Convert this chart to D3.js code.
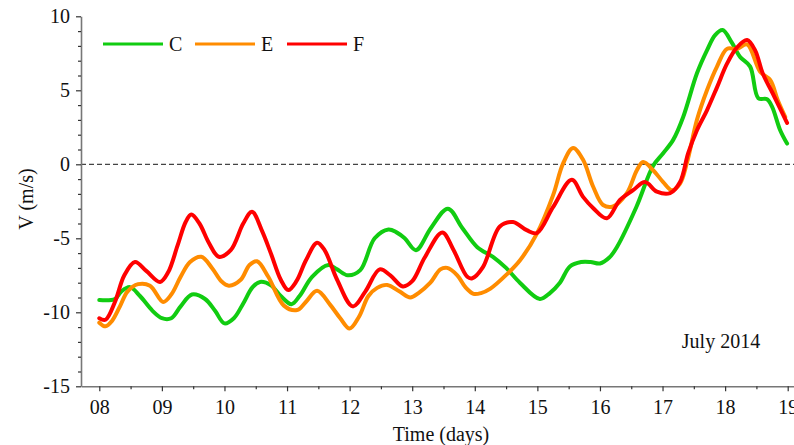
<!DOCTYPE html>
<html>
<head>
<meta charset="utf-8">
<script src="https://cdn.jsdelivr.net/npm/d3@7"></script>
<style>
  html, body { margin: 0; padding: 0; background: #fff; }
  svg { display: block; font-family: "Liberation Serif", "Times New Roman", serif; }
</style>
</head>
<body>
<svg id="chart" width="794" height="445"></svg>
<script>
// Meridional velocity V (m/s) at three stations, July 2014
const seriesNames = ["C", "E", "F"];

const daysC = [8.0, 8.25, 8.35, 8.49, 8.65, 8.85, 9.0, 9.15, 9.3, 9.48, 9.69, 9.85, 10.0, 10.15, 10.3, 10.45, 10.57, 10.75, 10.9, 11.07, 11.2, 11.4, 11.66, 11.8, 11.97, 12.17, 12.4, 12.62, 12.75, 12.88, 13.06, 13.3, 13.57, 13.8, 14.04, 14.29, 14.5, 14.72, 15.04, 15.2, 15.36, 15.52, 15.7, 15.85, 16.0, 16.15, 16.27, 16.58, 16.85, 17.01, 17.17, 17.33, 17.55, 17.71, 17.84, 17.96, 18.11, 18.24, 18.40, 18.53, 18.67, 18.75, 18.88, 18.99];
const valuesC = [-9.17, -9.1, -8.6, -8.3, -8.9, -9.9, -10.4, -10.4, -9.6, -8.8, -9.1, -9.9, -10.75, -10.4, -9.4, -8.3, -7.95, -8.2, -8.9, -9.45, -8.9, -7.6, -6.8, -7.1, -7.5, -7.15, -5.0, -4.4, -4.6, -5.0, -5.8, -4.3, -3.0, -4.3, -5.6, -6.25, -7.0, -8.0, -9.1, -8.7, -8.0, -6.9, -6.6, -6.6, -6.7, -6.3, -5.6, -2.9, -0.1, 0.75, 1.65, 3.2, 6.15, 7.7, 8.73, 9.07, 8.2, 7.25, 6.6, 4.47, 4.4, 3.9, 2.3, 1.4];

const daysE = [8.0, 8.1, 8.2, 8.33, 8.45, 8.62, 8.81, 9.02, 9.15, 9.3, 9.45, 9.63, 9.8, 9.95, 10.07, 10.26, 10.4, 10.52, 10.7, 10.95, 11.16, 11.3, 11.48, 11.69, 11.85, 12.0, 12.15, 12.3, 12.44, 12.6, 12.8, 12.97, 13.1, 13.29, 13.45, 13.56, 13.72, 13.85, 13.98, 14.1, 14.25, 14.52, 14.72, 14.99, 15.25, 15.41, 15.57, 15.73, 15.89, 16.05, 16.21, 16.43, 16.59, 16.69, 16.85, 17.01, 17.15, 17.28, 17.39, 17.55, 17.71, 17.87, 18.03, 18.19, 18.35, 18.56, 18.72, 18.84, 18.96];
const valuesE = [-10.7, -10.95, -10.6, -9.6, -8.6, -8.1, -8.2, -9.3, -8.8, -7.6, -6.6, -6.25, -7.0, -7.9, -8.2, -7.8, -6.8, -6.55, -7.6, -9.55, -9.85, -9.3, -8.55, -9.5, -10.4, -11.1, -10.3, -8.9, -8.35, -8.15, -8.6, -9.0, -8.7, -8.0, -7.1, -7.0, -7.5, -8.3, -8.75, -8.7, -8.4, -7.4, -6.5, -4.7, -2.1, 0.05, 1.1, 0.3, -1.5, -2.75, -2.85, -1.95, -0.4, 0.15, -0.4, -1.2, -1.75, -1.3, 0.1, 3.0, 5.0, 6.6, 7.8, 7.8, 8.1, 6.25, 5.7, 4.35, 3.2];

const daysF = [8.0, 8.1, 8.25, 8.4, 8.57, 8.75, 8.97, 9.1, 9.25, 9.38, 9.47, 9.6, 9.75, 9.91, 10.1, 10.3, 10.44, 10.6, 10.74, 10.9, 11.02, 11.15, 11.3, 11.48, 11.6, 11.8, 12.05, 12.25, 12.48, 12.65, 12.85, 13.0, 13.2, 13.48, 13.65, 13.88, 13.96, 14.13, 14.4, 14.61, 14.83, 14.99, 15.25, 15.55, 15.73, 15.89, 16.11, 16.32, 16.53, 16.72, 16.91, 17.12, 17.28, 17.41, 17.55, 17.71, 17.87, 18.03, 18.19, 18.35, 18.48, 18.60, 18.76, 18.99];
const valuesF = [-10.4, -10.5, -9.3, -7.5, -6.6, -7.2, -7.95, -7.3, -5.5, -3.9, -3.4, -4.0, -5.3, -6.25, -5.8, -4.0, -3.2, -4.5, -6.0, -7.8, -8.5, -7.9, -6.5, -5.3, -5.8, -7.8, -9.6, -8.6, -7.1, -7.5, -8.25, -7.9, -6.3, -4.6, -5.7, -7.6, -7.7, -6.95, -4.2, -3.9, -4.45, -4.65, -2.9, -1.05, -2.2, -2.95, -3.65, -2.4, -1.75, -1.2, -1.85, -1.95, -1.2, 0.75, 2.3, 3.65, 5.2, 6.8, 7.9, 8.4, 7.7, 6.15, 4.8, 2.8];

const seriesColors = ["#11cc11", "#ff8c00", "#ff0000"];

const xTickValues = d3.range(8, 20);
const yTickValues = [-15, -10, -5, 0, 5, 10];

const svg = d3.select("#chart");

// scales
const x = d3.scaleLinear().domain([8, 19]).range([99.3, 787.7]);
const y = d3.scaleLinear().domain([-15, 10]).range([386.3, 16.3]);
const axisLeftX = 81;
const xAxisScale = x.copy().domain([x.invert(axisLeftX), x.invert(800)]).range([axisLeftX, 800]);

const series = [
  { name: seriesNames[0], days: daysC, values: valuesC, color: seriesColors[0] },
  { name: seriesNames[1], days: daysE, values: valuesE, color: seriesColors[1] },
  { name: seriesNames[2], days: daysF, values: valuesF, color: seriesColors[2] }
];

// zero reference line
svg.append("line")
  .attr("x1", axisLeftX).attr("x2", 794)
  .attr("y1", y(0)).attr("y2", y(0))
  .attr("stroke", "#444").attr("stroke-width", 1.2)
  .attr("stroke-dasharray", "5,3");

// data lines
const line = d3.line()
  .x(d => x(d[0]))
  .y(d => y(d[1]))
  .curve(d3.curveCatmullRom.alpha(0.5));

series.forEach(s => {
  const pts = s.days.map((d, i) => [d, s.values[i]]);
  svg.append("path")
    .datum(pts)
    .attr("fill", "none")
    .attr("stroke", s.color)
    .attr("stroke-width", 4)
    .attr("stroke-linejoin", "round")
    .attr("stroke-linecap", "round")
    .attr("d", line);
});

// x axis
const gx = svg.append("g").attr("transform", `translate(0,${y(-15)})`);
gx.call(d3.axisBottom(xAxisScale)
  .tickValues(xTickValues)
  .tickFormat(d3.format("02d"))
  .tickSize(5)
  .tickSizeOuter(0)
  .tickPadding(9));
gx.append("g").call(d3.axisBottom(xAxisScale)
  .tickValues(d3.range(8.5, 19, 1))
  .tickFormat("")
  .tickSize(3)
  .tickSizeOuter(0))
  .select(".domain").remove();

// y axis (plain hyphen for negative labels)
const gy = svg.append("g").attr("transform", `translate(${axisLeftX},0)`);
gy.call(d3.axisLeft(y)
  .tickValues(yTickValues)
  .tickFormat(d => String(d))
  .tickSize(5)
  .tickSizeOuter(0)
  .tickPadding(6));
gy.append("g").call(d3.axisLeft(y)
  .tickValues(d3.range(-14, 10, 1).filter(v => v % 5 !== 0))
  .tickFormat("")
  .tickSize(3)
  .tickSizeOuter(0))
  .select(".domain").remove();

svg.selectAll(".domain").attr("stroke", "#777").attr("stroke-width", 1.6);
svg.selectAll(".tick line").attr("stroke", "#333").attr("stroke-width", 1.2);
svg.selectAll(".tick text")
  .attr("font-family", "'Liberation Serif', 'Times New Roman', serif")
  .attr("font-size", 20)
  .attr("fill", "#111");

// axis titles
svg.append("text")
  .attr("x", 441).attr("y", 441)
  .attr("text-anchor", "middle")
  .attr("font-size", 20).attr("fill", "#111")
  .text("Time (days)");

svg.append("text")
  .attr("transform", "translate(33,199) rotate(-90)")
  .attr("text-anchor", "middle")
  .attr("font-size", 20).attr("fill", "#111")
  .text("V (m/s)");

// annotation
svg.append("text")
  .attr("x", 721).attr("y", 348)
  .attr("text-anchor", "middle")
  .attr("font-size", 20).attr("fill", "#111")
  .text("July 2014");

// legend
const legendX = [103, 195, 287];
series.forEach((s, i) => {
  const g = svg.append("g").attr("transform", `translate(${legendX[i]},44)`);
  g.append("line")
    .attr("x1", 0).attr("x2", 60)
    .attr("y1", 0).attr("y2", 0)
    .attr("stroke", s.color).attr("stroke-width", 3.2);
  g.append("text")
    .attr("x", 66).attr("y", 7)
    .attr("font-size", 20).attr("fill", "#111")
    .text(s.name);
});
</script>
</body>
</html>
